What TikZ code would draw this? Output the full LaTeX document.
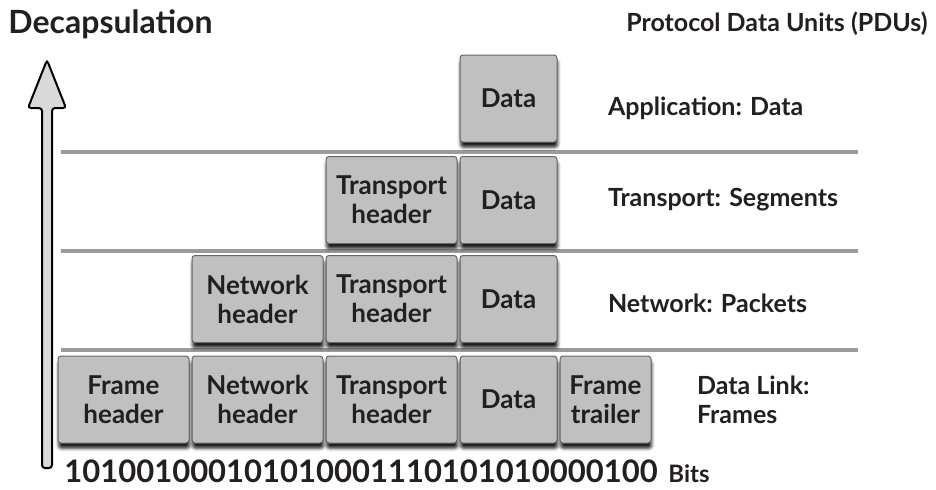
\documentclass[tikz,border=0pt]{standalone}
\usepackage{fontspec}
\setmainfont{Lato}
\usetikzlibrary{positioning,shadows.blur}
\definecolor{pdugray}{RGB}{192,192,192}
\definecolor{layerline}{RGB}{155,155,157}
\definecolor{inkblack}{RGB}{35,31,32}

\begin{document}
\begin{tikzpicture}[x=0.5pt, y=-0.5pt,
    pdu/.style={draw=black!60, line width=0.5pt, fill=pdugray, rounded corners=1.5pt,
        minimum height=43.5pt, inner sep=0pt, align=center, text=inkblack,
        font=\fontsize{13}{14.5}\selectfont\bfseries,
        blur shadow={shadow xshift=0.3pt, shadow yshift=-2.6pt, shadow blur radius=1.6pt, shadow opacity=90}},
    hdr/.style={pdu, minimum width=65.5pt},
    dat/.style={pdu, minimum width=48.5pt},
    layer/.style={anchor=base west, align=left, text=inkblack,
        font=\fontsize{12.5}{14.5}\selectfont\bfseries},
    sep/.style={draw=layerline, line width=2pt}]
    \useasboundingbox (0,0) rectangle (936,489);

    % headings
    \node[anchor=base west, inner sep=0pt, text=inkblack, font=\fontsize{16}{18}\selectfont\bfseries] (title) at (8,33) {Decapsulation};
    \node[anchor=base east, inner sep=0pt, text=inkblack, font=\fontsize{12.5}{15}\selectfont\bfseries] (pdus) at (928,31) {Protocol Data Units (PDUs)};

    % layer separators
    \foreach \y in {152,251,350}
        \draw[sep] (61,\y) -- (858,\y);

    % decapsulation arrow
    \draw[draw=black, line width=1pt, fill=gray!30, rounded corners=1.5pt]
        (42,468) -- (42,108) -- (28,108) -- (47,60) -- (66,108) -- (52,108) -- (52,468) -- cycle;

    % application
    \node[dat] (app-d) at (508.5,98.5) {Data};

    % transport
    \node[dat] (trn-d) at (508.5,200) {Data};
    \node[hdr, left=1pt of trn-d] (trn-th) {Transport\\header};

    % network
    \node[dat] (net-d) at (508.5,299) {Data};
    \node[hdr, left=1pt of net-d] (net-th) {Transport\\header};
    \node[hdr, left=1pt of net-th] (net-nh) {Network\\header};

    % data link
    \node[dat] (dl-d) at (508.5,399.5) {Data};
    \node[hdr, left=1pt of dl-d] (dl-th) {Transport\\header};
    \node[hdr, left=1pt of dl-th] (dl-nh) {Network\\header};
    \node[hdr, left=1pt of dl-nh] (dl-fh) {Frame\\header};
    \node[pdu, minimum width=45.5pt, right=1pt of dl-d] (dl-ft) {Frame\\trailer};

    % layer names
    \node[layer] (app) at (601,115) {Application: Data};
    \node[layer] (trn) at (601,206) {Transport: Segments};
    \node[layer] (net) at (601,312) {Network: Packets};
    \node[layer, anchor=west] (dl) at (690,400) {Data Link:\\Frames};

    % bits
    \node[anchor=base west, inner sep=0pt, text=inkblack, font=\fontsize{15.5}{18}\selectfont\bfseries] (bits) at (64,482) {101001000101010001110101010000100};
    \node[anchor=base west, inner sep=0pt, text=inkblack, font=\fontsize{12}{14}\selectfont\bfseries] (bitsname) at (668,482) {Bits};
\end{tikzpicture}
\end{document}
